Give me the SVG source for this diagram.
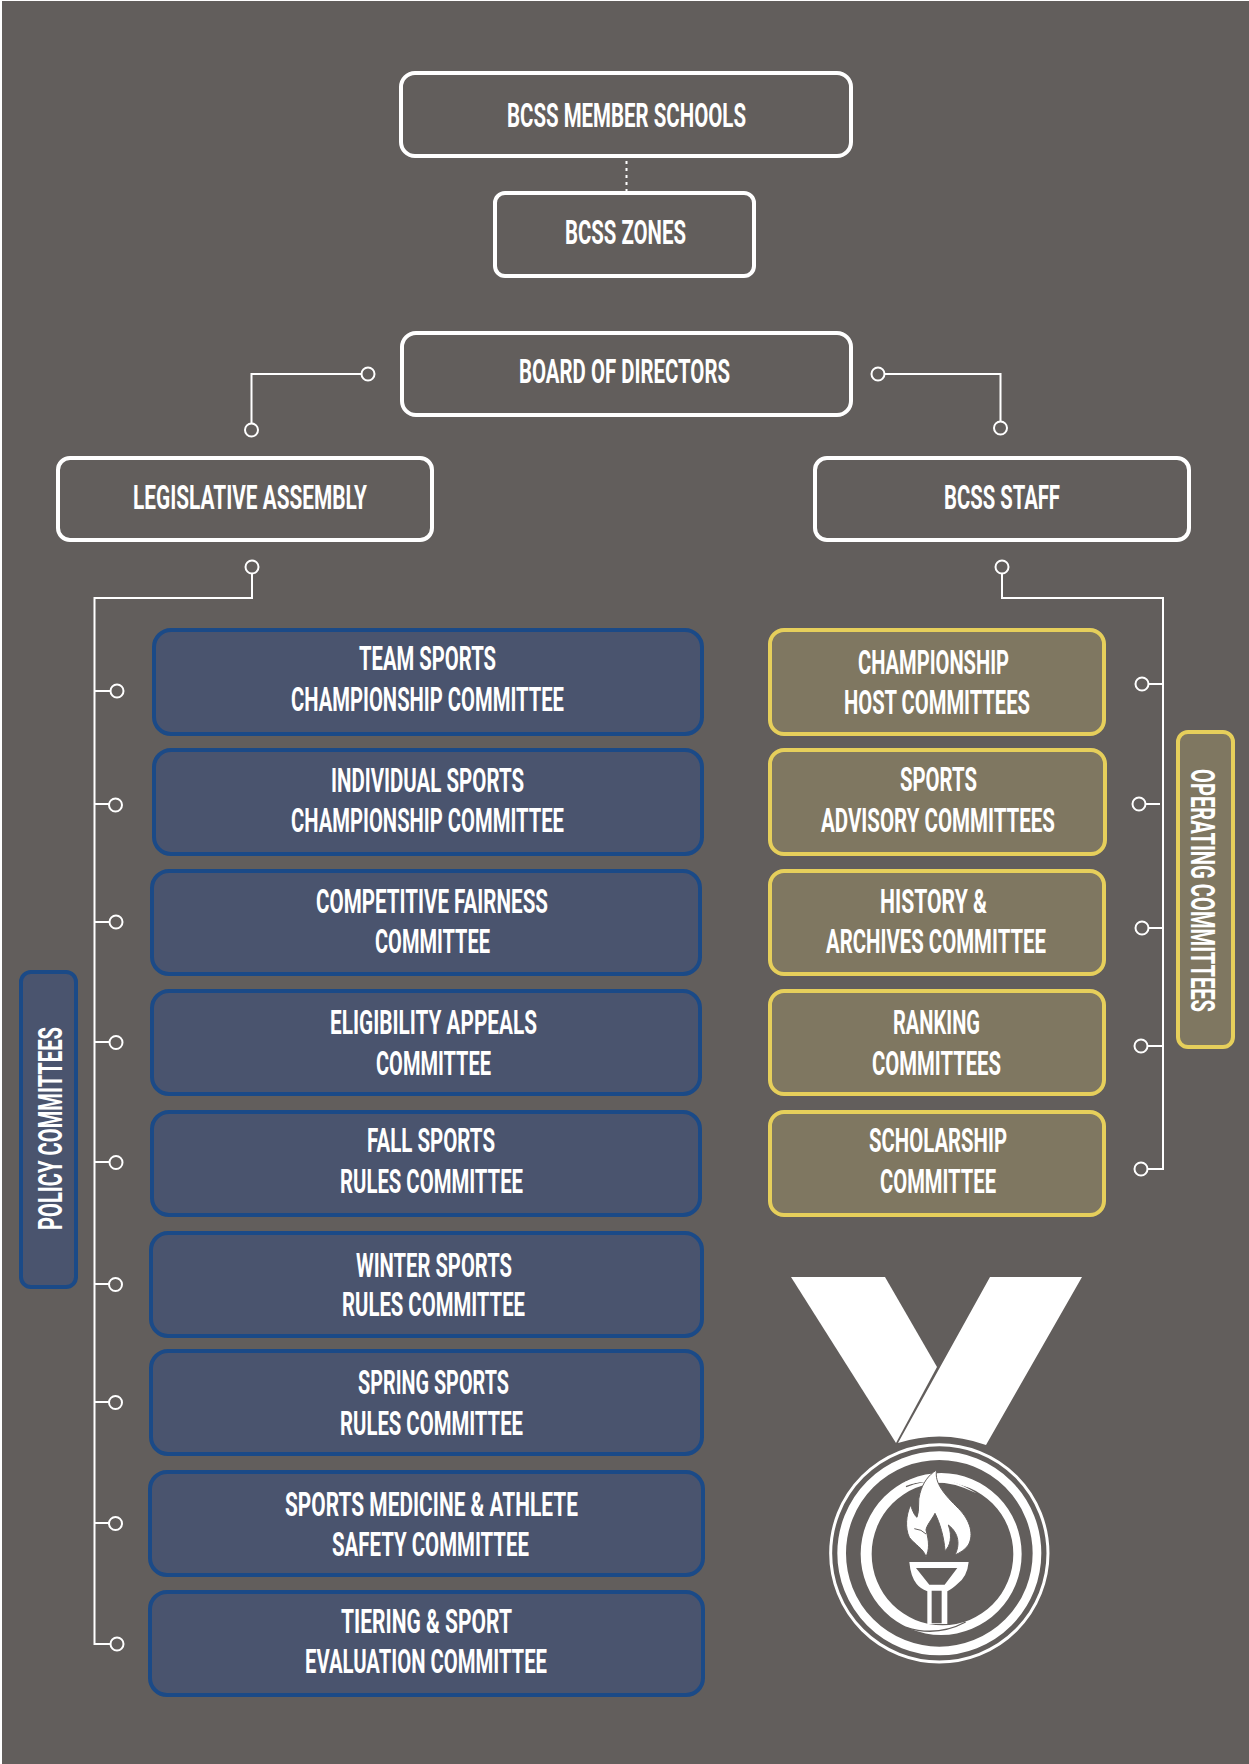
<svg xmlns="http://www.w3.org/2000/svg" width="1249" height="1764" viewBox="0 0 1249 1764">
<style>
text{font-family:"Roboto","Liberation Sans",sans-serif;font-weight:700;font-size:34px;fill:#fff}
.w{fill:#625e5c;stroke:#fff;stroke-width:4}
.b{fill:#4a546e;stroke:#1b4a87;stroke-width:4}
.y{fill:#7f7761;stroke:#e6cf5b;stroke-width:4}
.l{fill:none;stroke:#fff;stroke-width:2}
.c{fill:#625e5c;stroke:#fff;stroke-width:2}
</style>
<defs><circle id="o" r="6.5" class="c"/></defs>
<rect width="1249" height="1764" fill="#fff"/>
<rect x="2" y="1" width="1247" height="1763" fill="#625e5c"/>
<g id="connectors">
<path class="l" stroke-dasharray="3 4" d="M626.500 161V192"/>
<path class="l" d="M362 374H251.500V424"/><use href="#o" x="368" y="374"/><use href="#o" x="251.500" y="430"/>
<path class="l" d="M884 374H1000.500V422"/><use href="#o" x="878" y="374"/><use href="#o" x="1000.500" y="428"/>
<path class="l" d="M252 573V598H94.500V1644H110M94.500 691H110M94.500 804H109M94.500 922H110M94.500 1042H110M94.500 1162H110M94.500 1284H110M94.500 1402H110M94.500 1523H110"/>
<use href="#o" x="252" y="567"/><use href="#o" x="117" y="691"/><use href="#o" x="115.500" y="805"/><use href="#o" x="116" y="922"/><use href="#o" x="116" y="1042.500"/><use href="#o" x="116" y="1162.500"/><use href="#o" x="115.500" y="1284.500"/><use href="#o" x="115.500" y="1402.500"/><use href="#o" x="115.500" y="1523.500"/><use href="#o" x="117" y="1644"/>
<path class="l" d="M1002 567V598H1163V1169H1147M1163 684H1148M1160 804H1145M1163 928H1148M1163 1046H1147"/>
<use href="#o" x="1002" y="567"/><use href="#o" x="1142" y="684"/><use href="#o" x="1139" y="804"/><use href="#o" x="1142" y="928"/><use href="#o" x="1141" y="1046"/><use href="#o" x="1141" y="1169"/>
</g>
<g id="member-schools"><rect class="w" x="401" y="73" width="450" height="83" rx="14"/><text x="507" y="127" textLength="239" lengthAdjust="spacingAndGlyphs">BCSS MEMBER SCHOOLS</text></g>
<g id="zones"><rect class="w" x="495" y="193" width="259" height="83" rx="10"/><text x="565" y="243.500" textLength="121" lengthAdjust="spacingAndGlyphs">BCSS ZONES</text></g>
<g id="board"><rect class="w" x="402" y="333" width="449" height="82" rx="14"/><text x="519" y="382.500" textLength="211" lengthAdjust="spacingAndGlyphs">BOARD OF DIRECTORS</text></g>
<g id="legislative"><rect class="w" x="58" y="458" width="374" height="82" rx="12"/><text x="133" y="509" textLength="234" lengthAdjust="spacingAndGlyphs">LEGISLATIVE ASSEMBLY</text></g>
<g id="staff"><rect class="w" x="815" y="458" width="374" height="82" rx="12"/><text x="944" y="509" textLength="116" lengthAdjust="spacingAndGlyphs">BCSS STAFF</text></g>
<g id="policy"><rect class="b" x="21" y="972" width="55" height="315" rx="10"/><text transform="translate(61.500 1230) rotate(-90)" textLength="203" lengthAdjust="spacingAndGlyphs">POLICY COMMITTEES</text></g>
<g id="operating"><rect class="y" x="1178" y="732" width="55" height="315" rx="10"/><text transform="translate(1191 769) rotate(90)" textLength="243" lengthAdjust="spacingAndGlyphs">OPERATING COMMITTEES</text></g>
<g id="p1"><rect class="b" x="154" y="630" width="548" height="104" rx="17"/><text x="359" y="669.500" textLength="137" lengthAdjust="spacingAndGlyphs">TEAM SPORTS</text><text x="291" y="710.500" textLength="273" lengthAdjust="spacingAndGlyphs">CHAMPIONSHIP COMMITTEE</text></g>
<g id="p2"><rect class="b" x="154" y="750" width="548" height="104" rx="17"/><text x="331" y="791.500" textLength="193" lengthAdjust="spacingAndGlyphs">INDIVIDUAL SPORTS</text><text x="291" y="831.500" textLength="273" lengthAdjust="spacingAndGlyphs">CHAMPIONSHIP COMMITTEE</text></g>
<g id="p3"><rect class="b" x="152" y="871" width="548" height="103" rx="17"/><text x="316" y="913" textLength="232" lengthAdjust="spacingAndGlyphs">COMPETITIVE FAIRNESS</text><text x="375" y="953" textLength="115" lengthAdjust="spacingAndGlyphs">COMMITTEE</text></g>
<g id="p4"><rect class="b" x="152" y="991" width="548" height="103" rx="17"/><text x="330" y="1034" textLength="207" lengthAdjust="spacingAndGlyphs">ELIGIBILITY APPEALS</text><text x="376" y="1074.500" textLength="115" lengthAdjust="spacingAndGlyphs">COMMITTEE</text></g>
<g id="p5"><rect class="b" x="152" y="1112" width="548" height="103" rx="17"/><text x="367" y="1151.500" textLength="128" lengthAdjust="spacingAndGlyphs">FALL SPORTS</text><text x="340" y="1192.500" textLength="183" lengthAdjust="spacingAndGlyphs">RULES COMMITTEE</text></g>
<g id="p6"><rect class="b" x="151" y="1233" width="551" height="103" rx="17"/><text x="356" y="1276.500" textLength="156" lengthAdjust="spacingAndGlyphs">WINTER SPORTS</text><text x="342" y="1316" textLength="183" lengthAdjust="spacingAndGlyphs">RULES COMMITTEE</text></g>
<g id="p7"><rect class="b" x="151" y="1351" width="551" height="103" rx="17"/><text x="358" y="1394" textLength="151" lengthAdjust="spacingAndGlyphs">SPRING SPORTS</text><text x="340" y="1434.500" textLength="183" lengthAdjust="spacingAndGlyphs">RULES COMMITTEE</text></g>
<g id="p8"><rect class="b" x="150" y="1472" width="553" height="103" rx="17"/><text x="285" y="1516" textLength="293" lengthAdjust="spacingAndGlyphs">SPORTS MEDICINE &amp; ATHLETE</text><text x="332" y="1556" textLength="197" lengthAdjust="spacingAndGlyphs">SAFETY COMMITTEE</text></g>
<g id="p9"><rect class="b" x="150" y="1592" width="553" height="103" rx="17"/><text x="341" y="1632.500" textLength="171" lengthAdjust="spacingAndGlyphs">TIERING &amp; SPORT</text><text x="305" y="1672.500" textLength="242" lengthAdjust="spacingAndGlyphs">EVALUATION COMMITTEE</text></g>
<g id="o1"><rect class="y" x="770" y="630" width="334" height="104" rx="14"/><text x="858" y="673.500" textLength="151" lengthAdjust="spacingAndGlyphs">CHAMPIONSHIP</text><text x="844" y="713.500" textLength="186" lengthAdjust="spacingAndGlyphs">HOST COMMITTEES</text></g>
<g id="o2"><rect class="y" x="770" y="750" width="335" height="104" rx="14"/><text x="900" y="791" textLength="77" lengthAdjust="spacingAndGlyphs">SPORTS</text><text x="821" y="831.500" textLength="234" lengthAdjust="spacingAndGlyphs">ADVISORY COMMITTEES</text></g>
<g id="o3"><rect class="y" x="770" y="871" width="334" height="103" rx="14"/><text x="880" y="913" textLength="107" lengthAdjust="spacingAndGlyphs">HISTORY &amp;</text><text x="826" y="953" textLength="220" lengthAdjust="spacingAndGlyphs">ARCHIVES COMMITTEE</text></g>
<g id="o4"><rect class="y" x="770" y="991" width="334" height="103" rx="14"/><text x="893" y="1034" textLength="87" lengthAdjust="spacingAndGlyphs">RANKING</text><text x="872" y="1074.500" textLength="129" lengthAdjust="spacingAndGlyphs">COMMITTEES</text></g>
<g id="o5"><rect class="y" x="770" y="1112" width="334" height="103" rx="14"/><text x="869" y="1151.500" textLength="138" lengthAdjust="spacingAndGlyphs">SCHOLARSHIP</text><text x="880" y="1192.500" textLength="116" lengthAdjust="spacingAndGlyphs">COMMITTEE</text></g>
<g id="medal">
<path fill="#fff" d="M791 1277H885L937 1367L896 1443Z"/>
<path fill="#fff" d="M990 1277H1082L986 1445Q942 1429 898 1443Z"/>
<g transform="translate(820 1430) scale(.3333)">
<circle cx="358" cy="370" r="326" fill="none" stroke="#fff" stroke-width="9"/>
<circle cx="358" cy="370" r="293" fill="none" stroke="#fff" stroke-width="26"/>
<path fill="#fff" fill-rule="evenodd" d="M122 372a241.500 243 0 1 0 483 0a241.500 243 0 1 0 -483 0ZM155 372a212.500 214 0 1 1 425 0a212.500 214 0 1 1 -425 0Z"/>
<path d="M258 170Q370 125 472 192" fill="none" stroke="#625e5c" stroke-width="4"/>
<path d="M258 592Q350 622 437 576" fill="none" stroke="#625e5c" stroke-width="4"/>
<path d="M254 156Q350 115 470 190Q370 140 270 162Z" fill="#fff"/>
<path d="M350 120C342 160 375 195 415 235C452 272 462 315 445 345C435 360 420 368 405 375C420 345 418 310 385 285C398 320 390 350 375 362C372 320 360 280 345 250C335 270 320 285 318 300C328 335 328 360 318 380C310 355 285 345 268 322C255 295 258 255 272 225C278 245 285 258 291 262C300 240 292 210 300 190C308 160 325 135 350 120Z" fill="#fff" stroke="#625e5c" stroke-width="3"/>
<path d="M283 296Q305 298 318 312" fill="none" stroke="#625e5c" stroke-width="3"/>
<path fill="#fff" d="M268 396H446Q442 440 412 462Q395 478 382 484V582H322V484Q300 475 290 462Q272 440 268 396Z"/>
<path fill="#625e5c" d="M288 414H412L374 464H328ZM335 482H365V580H335Z"/>
</g>
</g>
</svg>
